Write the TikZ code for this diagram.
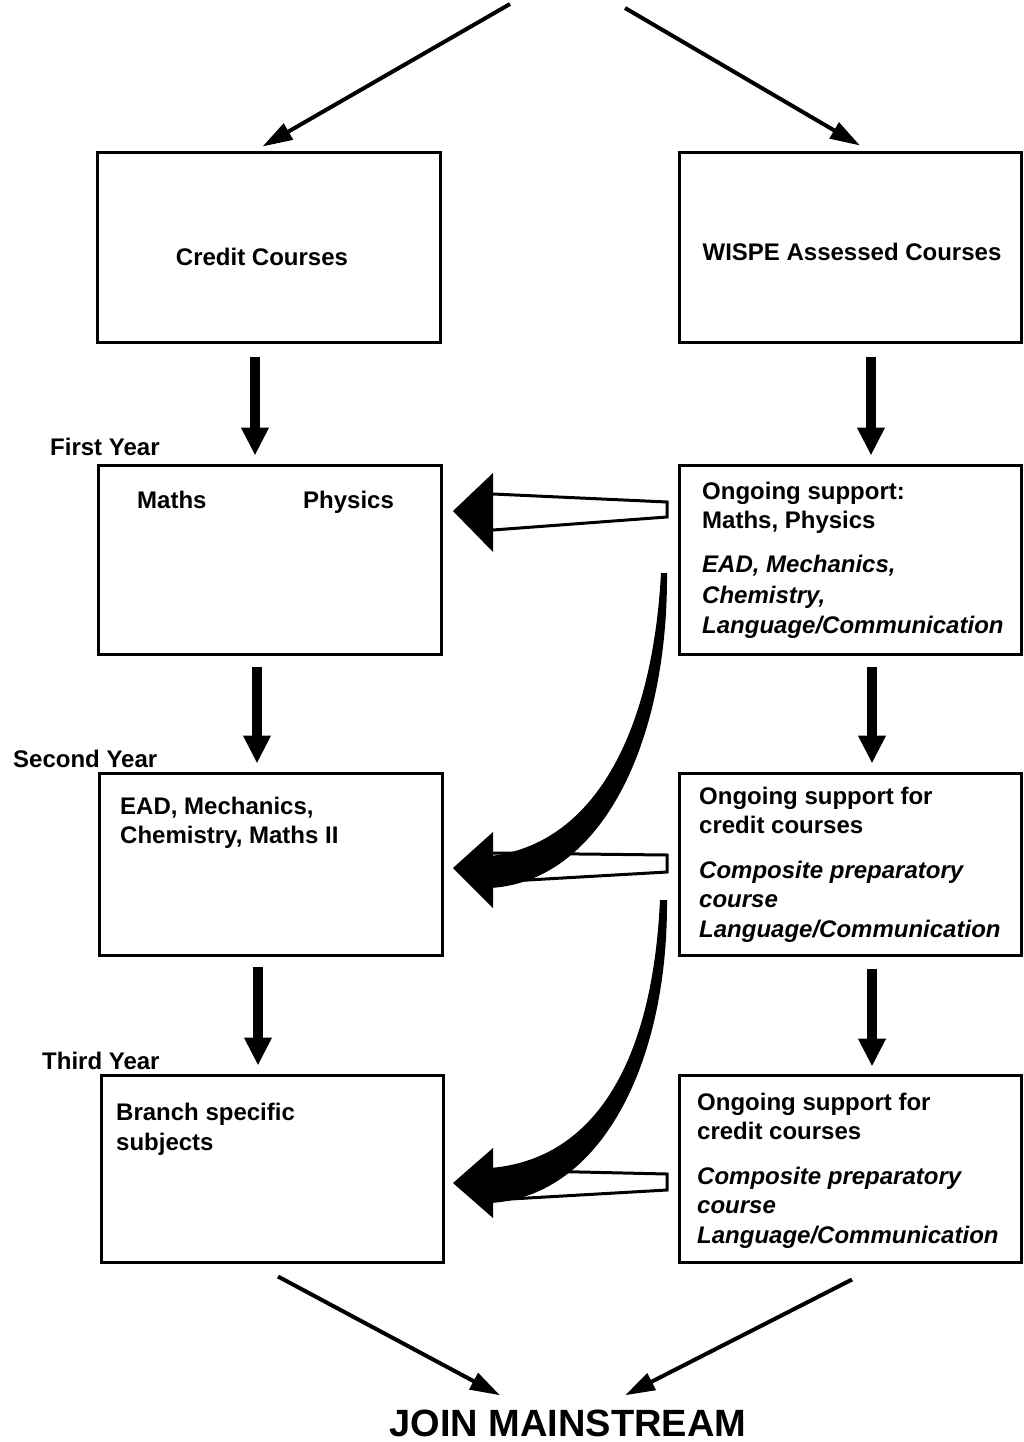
\documentclass[tikz,border=0pt]{standalone}
\usepackage{fontspec}
\setmainfont{Liberation Sans}
\usetikzlibrary{arrows.meta,calc}
\newcommand{\diafont}{\fontsize{24}{29}\selectfont}
\begin{document}
\begin{tikzpicture}[x=1pt,y=-1pt,
  box/.style={draw, line width=3pt, inner sep=0pt},
  txt/.style={anchor=base west, inner sep=0pt, font=\diafont\bfseries},
  itx/.style={anchor=base west, inner sep=0pt, font=\diafont\bfseries\itshape},
  dn/.style={line width=10pt, -{Triangle[length=28pt,width=26pt]}},
  thinarr/.style={line width=4pt, -{Triangle[length=30pt,width=18pt]}},
  wshaft/.style={line width=3pt, line join=miter},
  whead/.style={fill=black},
  curvefill/.style={fill=black}]
\useasboundingbox[fill=white] (0,0) rectangle (1023,1442);

% boxes
\node[box, minimum width=343pt, minimum height=189pt] (cc) at (268.5,247.5) {};
\node[box, minimum width=342pt, minimum height=189pt] (wa) at (850,247.5) {};
\node[box, minimum width=343pt, minimum height=189pt] (fy) at (269.5,559.5) {};
\node[box, minimum width=342pt, minimum height=189pt] (s1) at (850,559.5) {};
\node[box, minimum width=343pt, minimum height=182pt] (sy) at (270.5,864) {};
\node[box, minimum width=342pt, minimum height=182pt] (s2) at (850,864) {};
\node[box, minimum width=342pt, minimum height=187pt] (ty) at (272,1168.5) {};
\node[box, minimum width=342pt, minimum height=187pt] (s3) at (850,1168.5) {};

% texts
\node[txt, anchor=base] (tcc) at (262,265) {Credit Courses};
\node[txt, anchor=base] (twa) at (852,260) {WISPE Assessed Courses};

\node[txt] (l1) at (50,455) {First Year};
\node[txt] (l2) at (13,767) {Second Year};
\node[txt] (l3) at (42,1069) {Third Year};

\node[txt] (tm) at (137,508) {Maths};
\node[txt] (tp) at (303,508) {Physics};

\node[txt] (s1a) at (702,499) {Ongoing support:};
\node[txt] (s1b) at (702,528) {Maths, Physics};
\node[itx] (s1c) at (702,572) {EAD, Mechanics,};
\node[itx] (s1d) at (702,603) {Chemistry,};
\node[itx] (s1e) at (702,633) {Language/Communication};

\node[txt] (sya) at (120,814) {EAD, Mechanics,};
\node[txt] (syb) at (120,843) {Chemistry, Maths II};

\node[txt] (s2a) at (699,804) {Ongoing support for};
\node[txt] (s2b) at (699,833) {credit courses};
\node[itx] (s2c) at (699,878) {Composite preparatory};
\node[itx] (s2d) at (699,907) {course};
\node[itx] (s2e) at (699,937) {Language/Communication};

\node[txt] (tya) at (116,1120) {Branch specific};
\node[txt] (tyb) at (116,1150) {subjects};

\node[txt] (s3a) at (697,1110) {Ongoing support for};
\node[txt] (s3b) at (697,1139) {credit courses};
\node[itx] (s3c) at (697,1184) {Composite preparatory};
\node[itx] (s3d) at (697,1213) {course};
\node[itx] (s3e) at (697,1243) {Language/Communication};

\node[anchor=base, inner sep=0pt, font=\fontsize{38}{44}\selectfont\bfseries] (jm) at (568,1436) {JOIN MAINSTREAM};

% thick down arrows
\draw[dn] ([xshift=-13.5pt,yshift=-13pt]cc.south) -- ([xshift=-14.5pt,yshift=8pt]fy.north);
\draw[dn] ([xshift=-12.5pt,yshift=-11pt]fy.south) -- ([xshift=-13.5pt,yshift=8pt]sy.north);
\draw[dn] ([xshift=-12.5pt,yshift=-10pt]sy.south) -- ([xshift=-14pt,yshift=8pt]ty.north);
\draw[dn] ([xshift=21pt,yshift=-13pt]wa.south) -- ([xshift=21pt,yshift=8pt]s1.north);
\draw[dn] ([xshift=22pt,yshift=-11pt]s1.south) -- ([xshift=22pt,yshift=8pt]s2.north);
\draw[dn] ([xshift=22pt,yshift=-12pt]s2.south) -- ([xshift=22pt,yshift=7pt]s3.north);

% top and bottom thin arrows
\coordinate (topL) at (510,4);
\coordinate (topR) at (625,8);
\draw[thinarr] (topL) -- ([xshift=-6pt,yshift=5pt]cc.north);
\draw[thinarr] (topR) -- ([xshift=10pt,yshift=6pt]wa.north);
\draw[thinarr] ([xshift=6pt,yshift=-13pt]ty.south) -- ([xshift=-68pt,yshift=14pt]jm.north);
\draw[thinarr] ([xshift=2pt,yshift=-16pt]s3.south) -- ([xshift=57pt,yshift=14pt]jm.north);

% wedge arrows (hollow tapering shaft, solid head)
\draw[wshaft] (493,494) -- (667,502) -- (667,517) -- (493,530);
\fill[whead] (453,511) -- (493,473) -- (493,552) -- cycle;

\draw[wshaft] (493,853) -- (667,855) -- (667,872) -- (493,882);
\fill[whead] (453,868) -- (493,832) -- (493,908) -- cycle;

\draw[wshaft] (493,1170) -- (667,1174) -- (667,1190) -- (493,1200);
\fill[whead] (453,1183) -- (493,1148) -- (493,1218) -- cycle;

% curved sweeping arrows
\fill[curvefill] (661,573) .. controls (652,740) and (590,845) .. (490,856)
   -- (490,888) .. controls (600,882) and (668,745) .. (667,573) -- cycle;
\fill[curvefill] (660,900) .. controls (652,1070) and (590,1160) .. (490,1168)
   -- (490,1203) .. controls (600,1197) and (668,1065) .. (667,900) -- cycle;
\end{tikzpicture}
\end{document}
